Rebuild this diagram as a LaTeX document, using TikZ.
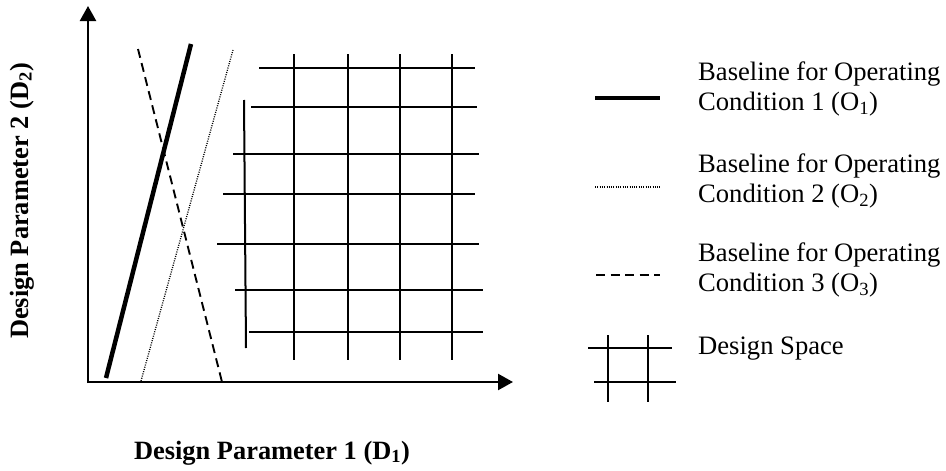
\documentclass[tikz,border=0pt]{standalone}
\usepackage{fontspec}
\setmainfont{Liberation Serif}
\usetikzlibrary{arrows.meta}
\tikzset{
  axis/.style={line width=2.4pt, -{Triangle[length=15pt,width=16pt]}},
  gridline/.style={line width=2pt},
  baseone/.style={line width=4.5pt},
  basetwo/.style={line width=1.3pt, dash pattern=on 1pt off 1.3pt},
  basethree/.style={line width=1.9pt, dash pattern=on 9pt off 5.5pt},
  legtext/.style={font=\fontsize{26.6}{30}\selectfont, inner sep=0pt, align=left},
  axlabel/.style={font=\fontsize{26.4}{30}\selectfont\bfseries, inner sep=0pt},
}
\begin{document}
\begin{tikzpicture}[x=1pt,y=-1pt]
\useasboundingbox (0,0) rectangle (946,471);
% axes
\coordinate (O) at (88,382);
\coordinate (Oy) at (88,383.2);
\coordinate (ytip) at (88,6);
\coordinate (xtip) at (513,382);
\draw[axis] (Oy) -- (ytip);
\draw[axis] (O) -- (xtip);
% axis labels
\node[axlabel, anchor=base] (xlab) at (272,459) {Design Parameter 1 (D\textsubscript{1})};
\node[axlabel, anchor=base, rotate=90] (ylab) at (28,201) {Design Parameter 2 (D\textsubscript{2})};
% baselines
\coordinate (a1) at (106,378); \coordinate (a2) at (191,44);
\coordinate (b1) at (141,381); \coordinate (b2) at (233,50);
\coordinate (c1) at (138,49);  \coordinate (c2) at (222,382);
\draw[baseone] (a1) -- (a2);
\draw[basetwo] (b1) -- (b2);
\draw[basethree] (c1) -- (c2);
% design space grid
\foreach \gx in {294,348,400,452}
  \draw[gridline] (\gx,54) -- (\gx,360);
\coordinate (g1) at (244,100); \coordinate (g2) at (246,348);
\draw[gridline] (g1) -- (g2);
\foreach \gy/\xa/\xb in {68/259/475, 107/251/477, 154/233/479, 194/223/475, 244/217/479, 290/235/483, 332/249/483}
  \draw[gridline] (\xa,\gy) -- (\xb,\gy);
% legend
\coordinate (l1a) at (595,98);  \coordinate (l1b) at (660,98);
\coordinate (l2a) at (595,187); \coordinate (l2b) at (660,187);
\coordinate (l3a) at (596,275); \coordinate (l3b) at (660,275);
\draw[baseone] (l1a) -- (l1b);
\draw[basetwo] (l2a) -- (l2b);
\draw[basethree] (l3a) -- (l3b);
\draw[gridline] (588,348) -- (672,348);
\draw[gridline] (594,382) -- (676,382);
\draw[gridline] (608,335) -- (608,402);
\draw[gridline] (648,335) -- (648,402);
\node[legtext, anchor=north west] (t1) at (698,62) {Baseline for Operating\\Condition 1 (O\textsubscript{1})};
\node[legtext, anchor=north west] (t2) at (698,154) {Baseline for Operating\\Condition 2 (O\textsubscript{2})};
\node[legtext, anchor=north west] (t3) at (698,243) {Baseline for Operating\\Condition 3 (O\textsubscript{3})};
\node[legtext, anchor=base west] (t4) at (698,354) {Design Space};
\end{tikzpicture}
\end{document}
